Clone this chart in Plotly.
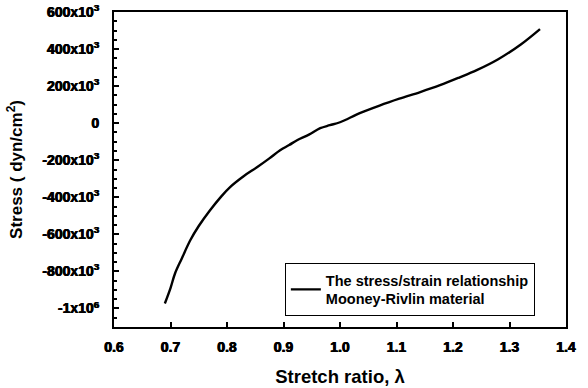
import plotly.graph_objects as go

stretch = [0.690, 0.700, 0.708, 0.720, 0.735, 0.750, 0.770, 0.790, 0.805, 0.830, 0.853, 0.875,
           0.894, 0.910, 0.924, 0.945, 0.965, 0.982, 1.000, 1.035, 1.070, 1.105, 1.142, 1.177,
           1.210, 1.242, 1.280, 1.320, 1.354]
stress = [-973e3, -890e3, -811e3, -730e3, -632e3, -555e3, -470e3, -395e3, -346e3, -285e3, -238e3, -190e3,
          -146e3, -118e3, -92e3, -62e3, -27e3, -11e3, 5e3, 54e3, 95e3, 132e3, 168e3, 205e3,
          245e3, 286e3, 345e3, 425e3, 508e3]

ytickvals = [600e3, 400e3, 200e3, 0, -200e3, -400e3, -600e3, -800e3, -1e6]
yticktext = ["600x10<sup>3</sup>", "400x10<sup>3</sup>", "200x10<sup>3</sup>", "0",
             "-200x10<sup>3</sup>", "-400x10<sup>3</sup>", "-600x10<sup>3</sup>",
             "-800x10<sup>3</sup>", "-1x10<sup>6</sup>"]
xtickvals = [0.6, 0.7, 0.8, 0.9, 1.0, 1.1, 1.2, 1.3, 1.4]
xticktext = ["0.6", "0.7", "0.8", "0.9", "1.0", "1.1", "1.2", "1.3", "1.4"]

font = "Liberation Sans"
tfont = "Liberation Sans"

fig = go.Figure()
fig.add_trace(go.Scatter(
    x=stretch, y=stress, mode="lines", line=dict(color="black", width=2.4, shape="spline"),
    name="<b>The stress/strain relationship<br>Mooney-Rivlin material</b>",
    showlegend=True,
))

fig.update_layout(
    width=588, height=388,
    margin=dict(l=114, r=22, t=12, b=61, autoexpand=False),
    paper_bgcolor="white", plot_bgcolor="white",
    font=dict(family=font, color="black", weight=700),
    legend=dict(
        x=0.378, y=0.035, xanchor="left", yanchor="bottom",
        bgcolor="white", bordercolor="black", borderwidth=1,
        font=dict(size=14.5, family=font, color="black", weight="bold"),
        itemwidth=30, tracegroupgap=0,
    ),
)
tick_shadow = "0.4px 0 0 black, -0.4px 0 0 black"
fig.update_xaxes(
    range=[0.6, 1.4], tickvals=xtickvals, ticktext=xticktext,
    ticks="inside", ticklen=5, tickwidth=1.5, tickcolor="black", ticklabelstandoff=6,
    showline=True, linecolor="black", linewidth=2, mirror=True,
    showgrid=False, zeroline=False, automargin=False,
    tickfont=dict(size=14, family=tfont, color="black", weight=700, shadow=tick_shadow),
    title=dict(text="<b>Stretch ratio, λ</b>", font=dict(size=18.5, family=font), standoff=16),
)
fig.update_yaxes(
    range=[-1.1e6, 600e3], tickvals=ytickvals, ticktext=yticktext,
    ticks="inside", ticklen=5, tickwidth=1.5, tickcolor="black", ticklabelstandoff=10,
    minor=dict(ticks="inside", ticklen=3, dtick=50e3, tickcolor="black"),
    showline=True, linecolor="black", linewidth=2, mirror=True,
    showgrid=False, zeroline=False, automargin=False,
    tickfont=dict(size=14, family=tfont, color="black", weight=700, shadow=tick_shadow),
    title=dict(text="<b>Stress ( dyn/cm<sup>2</sup>)</b>", font=dict(size=17, family=font), standoff=15),
)

fig.write_html("out.html")
